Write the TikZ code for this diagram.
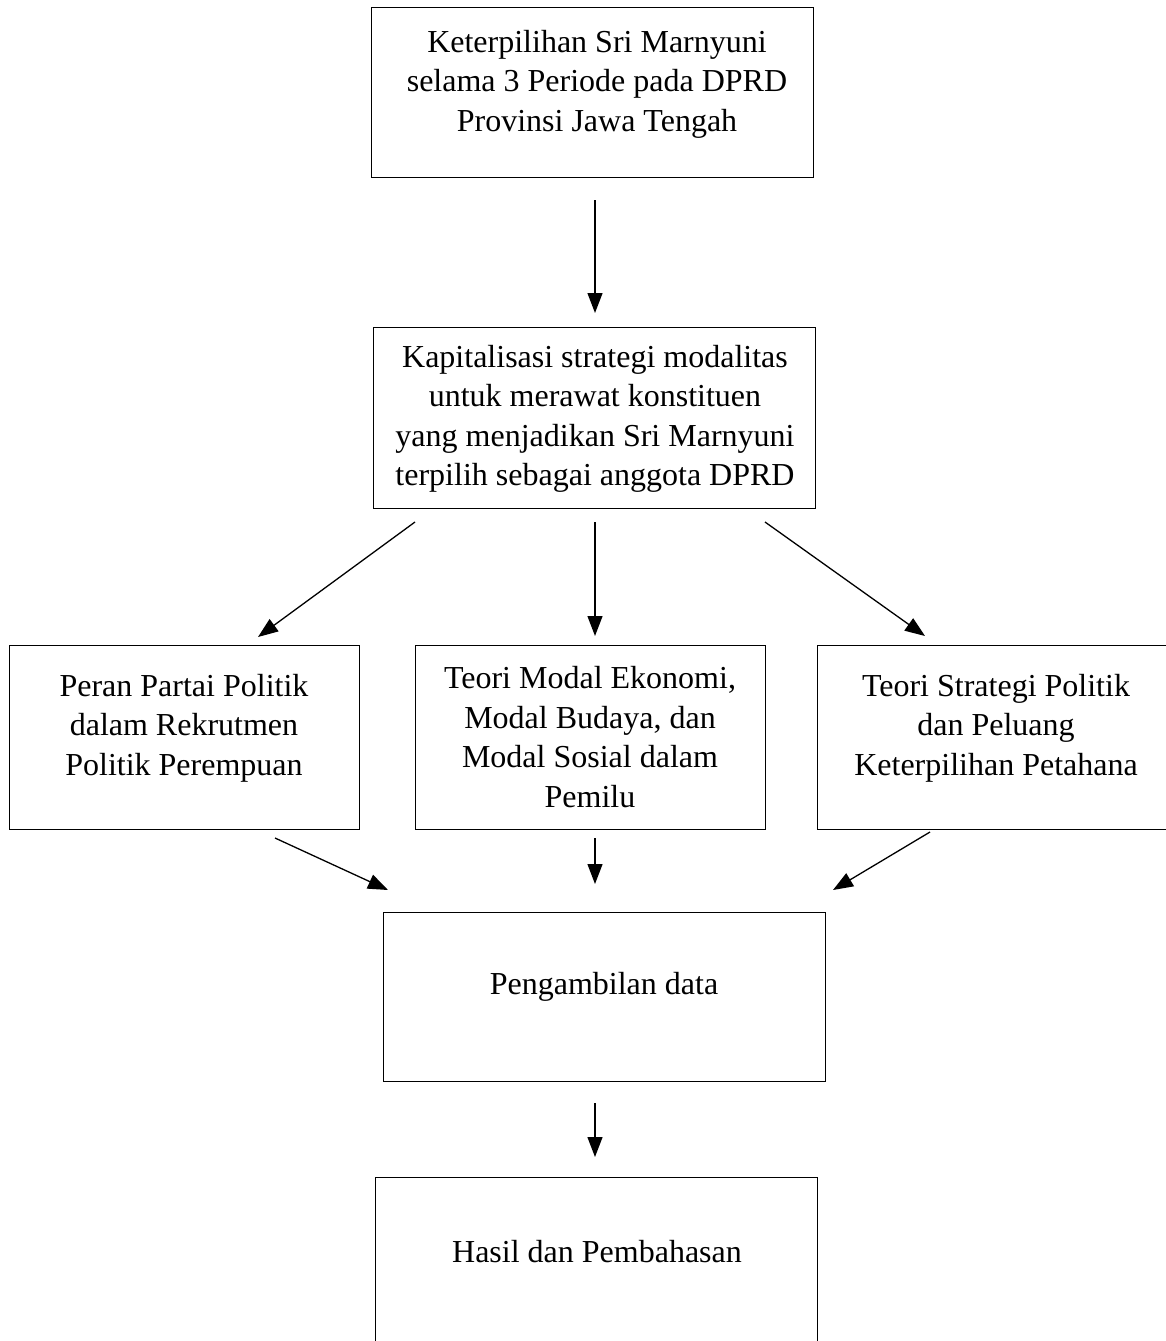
\documentclass[tikz,border=0pt]{standalone}
\usepackage{fontspec}
\setmainfont{Liberation Serif}
\usetikzlibrary{arrows.meta}
\begin{document}
\begin{tikzpicture}[x=1pt,y=-1pt,
 box/.style={draw=black,line width=1.4pt,inner sep=0pt,anchor=north west},
 txt/.style={align=center,font=\fontsize{32}{39.5}\selectfont,inner sep=0pt},
 arr/.style={line width=1.3pt,-{Triangle[length=20pt,width=15pt]}}]
\useasboundingbox (0,0) rectangle (1165,1341);
% boxes
\node[box,minimum width=442pt,minimum height=170pt] (b1) at (371,7) {};
\node[box,minimum width=442pt,minimum height=181pt] (b2) at (373,327) {};
\node[box,minimum width=350pt,minimum height=184pt] (b3) at (9,645) {};
\node[box,minimum width=350pt,minimum height=184pt] (b4) at (415,645) {};
\node[box,minimum width=360pt,minimum height=184pt] (b5) at (817,645) {};
\node[box,minimum width=442pt,minimum height=169pt] (b6) at (383,912) {};
\node[box,minimum width=442pt,minimum height=180pt] (b7) at (375,1177) {};
% texts
\node[txt] (t1) at (597,84) {Keterpilihan Sri Marnyuni\\selama 3 Periode pada DPRD\\Provinsi Jawa Tengah};
\node[txt] (t2) at (595,419) {Kapitalisasi strategi modalitas\\untuk merawat konstituen\\yang menjadikan Sri Marnyuni\\terpilih sebagai anggota DPRD};
\node[txt] (t3) at (184,728) {Peran Partai Politik\\dalam Rekrutmen\\Politik Perempuan};
\node[txt] (t4) at (590,737) {Teori Modal Ekonomi,\\Modal Budaya, dan\\Modal Sosial dalam\\Pemilu};
\node[txt] (t5) at (996,728) {Teori Strategi Politik\\dan Peluang\\Keterpilihan Petahana};
\node[txt] (t6) at (604,987) {Pengambilan data};
\node[txt] (t7) at (597,1252) {Hasil dan Pembahasan};
% arrow end points
\coordinate (a1s) at (595,200); \coordinate (a1e) at (595,313);
\coordinate (a2s) at (415,522); \coordinate (a2e) at (258,637);
\coordinate (a3s) at (595,522); \coordinate (a3e) at (595,636);
\coordinate (a4s) at (765,522); \coordinate (a4e) at (925,636);
\coordinate (a5s) at (275,838); \coordinate (a5e) at (388,890);
\coordinate (a6s) at (595,838); \coordinate (a6e) at (595,884);
\coordinate (a7s) at (930,832); \coordinate (a7e) at (833,890);
\coordinate (a8s) at (595,1103); \coordinate (a8e) at (595,1157);
\draw[arr] (a1s) -- (a1e);
\draw[arr] (a2s) -- (a2e);
\draw[arr] (a3s) -- (a3e);
\draw[arr] (a4s) -- (a4e);
\draw[arr] (a5s) -- (a5e);
\draw[arr] (a6s) -- (a6e);
\draw[arr] (a7s) -- (a7e);
\draw[arr] (a8s) -- (a8e);
\end{tikzpicture}
\end{document}
